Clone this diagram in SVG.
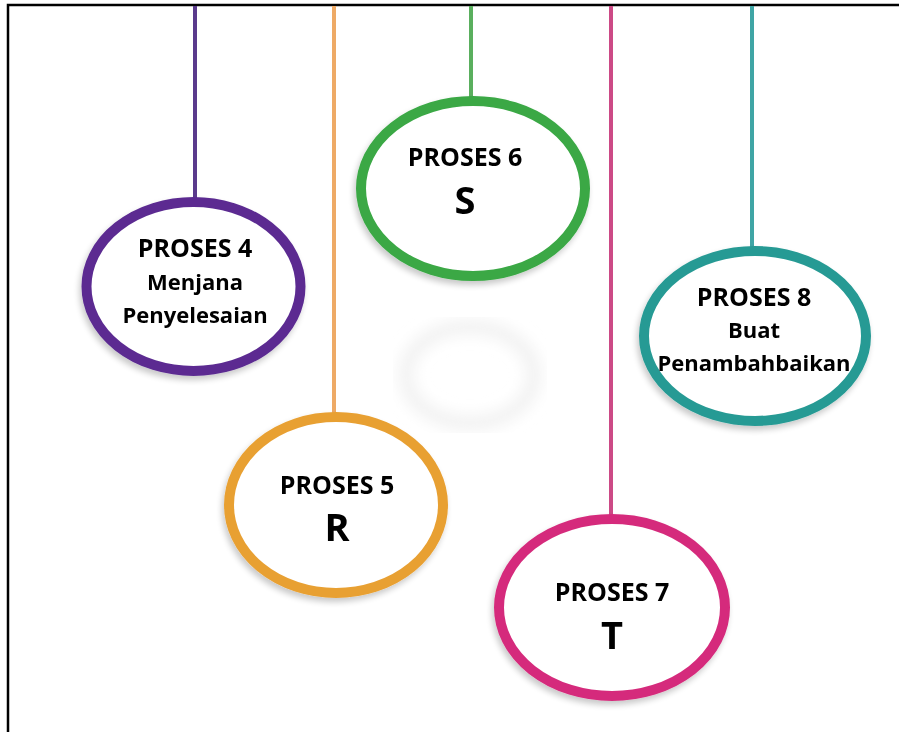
<svg xmlns="http://www.w3.org/2000/svg" width="899" height="732" viewBox="0 0 899 732">
  <defs>
    <style>
      .ring { fill: #ffffff; stroke-width: 10; }
      .t1 { font-family: "Open Sans", "Liberation Sans", sans-serif; font-weight: bold; font-size: 25px; fill: #000; text-anchor: middle; }
      .t2 { font-family: "Open Sans", "Liberation Sans", sans-serif; font-weight: bold; font-size: 22px; fill: #000; text-anchor: middle; }
      .big { font-family: "Open Sans", "Liberation Sans", sans-serif; font-weight: bold; font-size: 38px; fill: #000; text-anchor: middle; }
      .str { stroke-width: 4; fill: none; }
    </style>
    <filter id="soft" x="-10%" y="-10%" width="120%" height="125%">
      <feGaussianBlur in="SourceAlpha" stdDeviation="3"/>
      <feOffset dx="-2" dy="4" result="b"/>
      <feComponentTransfer><feFuncA type="linear" slope="0.22"/></feComponentTransfer>
      <feMerge><feMergeNode/><feMergeNode in="SourceGraphic"/></feMerge>
    </filter>
    <filter id="ghost"><feGaussianBlur stdDeviation="7"/></filter>
  </defs>
  <rect x="0" y="0" width="899" height="732" fill="#ffffff"/>
  <g id="frame" stroke="#000" stroke-width="2.5" fill="none">
    <path d="M8 732 V5 H899"/>
  </g>
  <ellipse id="ghost-shape" cx="470" cy="375" rx="64" ry="48" fill="none" stroke="#f3f3f3" stroke-width="16" filter="url(#ghost)"/>
  <g id="connectors">
    <line class="str" x1="195" y1="6" x2="195" y2="203" stroke="#5a3a8c"/>
    <line class="str" x1="334" y1="6" x2="334" y2="418" stroke="#eeaa66"/>
    <line class="str" x1="471" y1="6" x2="471" y2="102" stroke="#5aaf5e"/>
    <line class="str" x1="611" y1="6" x2="611" y2="520" stroke="#cc4a86"/>
    <line class="str" x1="752" y1="6" x2="752" y2="252" stroke="#3fa5a5"/>
  </g>
  <g id="node-proses4" filter="url(#soft)">
    <ellipse class="ring" cx="193.5" cy="286.5" rx="107" ry="84.5" stroke="#5b2c91"/>
    <text class="t1" x="195" y="257">PROSES 4</text>
    <text class="t2" x="195" y="290">Menjana</text>
    <text class="t2" x="195" y="323">Penyelesaian</text>
  </g>
  <g id="node-proses5" filter="url(#soft)">
    <ellipse class="ring" cx="336" cy="505" rx="107" ry="88" stroke="#e8a033"/>
    <text class="t1" x="337" y="494">PROSES 5</text>
    <text class="big" x="337" y="541">R</text>
  </g>
  <g id="node-proses6" filter="url(#soft)">
    <ellipse class="ring" cx="473" cy="188.5" rx="112" ry="87.5" stroke="#3aa845"/>
    <text class="t1" x="465" y="166">PROSES 6</text>
    <text class="big" x="465" y="214">S</text>
  </g>
  <g id="node-proses7" filter="url(#soft)">
    <ellipse class="ring" cx="612" cy="607.5" rx="113" ry="88.5" stroke="#d52c7c"/>
    <text class="t1" x="612" y="601">PROSES 7</text>
    <text class="big" x="612" y="649">T</text>
  </g>
  <g id="node-proses8" filter="url(#soft)">
    <ellipse class="ring" cx="755" cy="336" rx="111" ry="85" stroke="#279a94"/>
    <text class="t1" x="754" y="306">PROSES 8</text>
    <text class="t2" x="754" y="338">Buat</text>
    <text class="t2" x="754" y="371">Penambahbaikan</text>
  </g>
</svg>
